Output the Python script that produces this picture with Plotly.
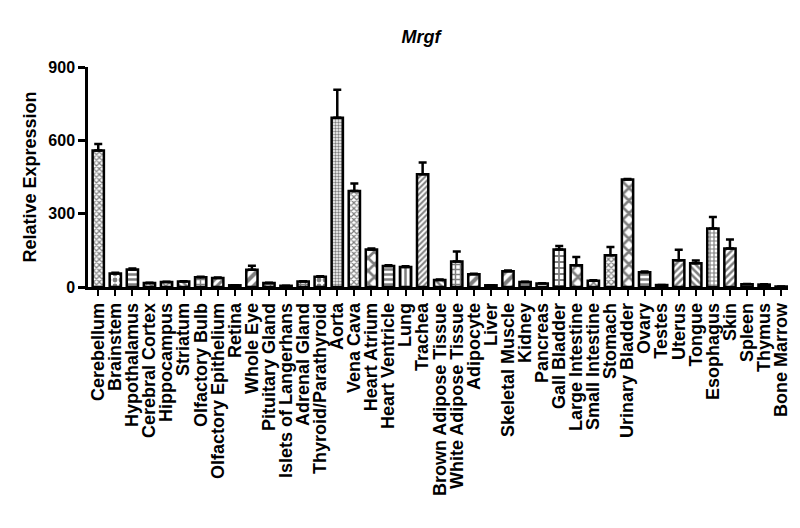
import plotly.graph_objects as go

# tissues along the x axis
tissues = ['Cerebellum', 'Brainstem', 'Hypothalamus', 'Cerebral Cortex', 'Hippocampus',
           'Striatum', 'Olfactory Bulb', 'Olfactory Epithelium', 'Retina', 'Whole Eye',
           'Pituitary Gland', 'Islets of Langerhans', 'Adrenal Gland', 'Thyroid/Parathyroid',
           'Aorta', 'Vena Cava', 'Heart Atrium', 'Heart Ventricle', 'Lung', 'Trachea',
           'Brown Adipose Tissue', 'White Adipose Tissue', 'Adipocyte', 'Liver',
           'Skeletal Muscle', 'Kidney', 'Pancreas', 'Gall Bladder', 'Large Intestine',
           'Small Intestine', 'Stomach', 'Urinary Bladder', 'Ovary', 'Testes', 'Uterus',
           'Tongue', 'Esophagus', 'Skin', 'Spleen', 'Thymus', 'Bone Marrow']

# mean relative expression
expression = [558, 55, 72, 16, 20, 23, 40, 37, 7, 71,
              16, 5, 23, 42, 692, 393, 153, 86, 82, 461,
              29, 104, 52, 7, 64, 20, 14, 153, 89, 26,
              130, 440, 60, 8, 109, 97, 239, 157, 11, 10, 2]

# upper error (SEM)
sem = [27, 3, 4, 1, 1, 1, 2, 2, 0, 16,
       1, 0, 1, 2, 115, 30, 4, 3, 3, 48,
       2, 41, 2, 0, 3, 1, 1, 15, 34, 2,
       34, 2, 3, 0, 43, 11, 47, 37, 1, 1, 0]

y_ticks = [0, 300, 600, 900]

# hatch fills, roughly like the prism ones
patterns = ['x', '.', '-', 'x', 'x', '\\', '+', '/', '', '/',
            '+', '', '+', '.', '.', 'x', 'x', '-', '|', '/',
            '\\', '+', '/', '', '/', '-', '', '+', 'x', 'x',
            'x', 'x', '-', '', '/', '\\', '+', '/', '', '', '']
pat_size = [4, 6, 5, 5, 5, 5, 5, 6, 5, 8,
            5, 5, 5, 6, 3, 4, 9, 5, 5, 4,
            5, 5, 8, 5, 8, 5, 5, 6, 9, 5,
            4, 9, 5, 5, 5, 5, 4, 5, 5, 5, 5]

fig = go.Figure()
fig.add_trace(go.Bar(
    x=tissues, y=expression,
    marker=dict(color='white', line=dict(color='black', width=2.5),
                pattern=dict(shape=patterns, size=pat_size, fgcolor='black',
                             bgcolor='white', solidity=0.5)),
    error_y=dict(type='data', array=sem, arrayminus=[0] * len(sem), symmetric=False,
                 color='black', thickness=2.5, width=4),
))

font = 'Liberation Sans, Arial, sans-serif'
fig.update_layout(
    width=800, height=528,
    margin=dict(l=80, r=20, t=59, b=249),
    plot_bgcolor='white', paper_bgcolor='white',
    showlegend=False, bargap=0.34,
    title=dict(text='<b><i>Mrgf</i></b>', x=413 / 800, xanchor='center',
               y=1 - 29 / 528, yref='container', yanchor='middle',
               font=dict(family=font, size=18, color='black')),
)
fig.update_xaxes(range=[-0.6, 40.4], tickmode='linear', dtick=1, tickangle=-90,
                 automargin=False, showline=True, linecolor='black',
                 linewidth=2.5, ticks='outside', ticklen=6, tickwidth=2, tickcolor='black',
                 tickfont=dict(family=font, size=18, color='black', weight='bold'),
                 showgrid=False)
fig.update_yaxes(range=[0, 900], tickvals=y_ticks, automargin=False, showline=True,
                 linecolor='black', linewidth=2.5, ticks='outside', ticklen=7,
                 tickwidth=2.5, tickcolor='black',
                 tickfont=dict(family=font, size=16, color='black', weight='bold'),
                 showgrid=False, zeroline=False,
                 title=dict(text='Relative Expression', standoff=8,
                            font=dict(family=font, size=18, color='black', weight='bold')))

fig.write_html("out.html")
